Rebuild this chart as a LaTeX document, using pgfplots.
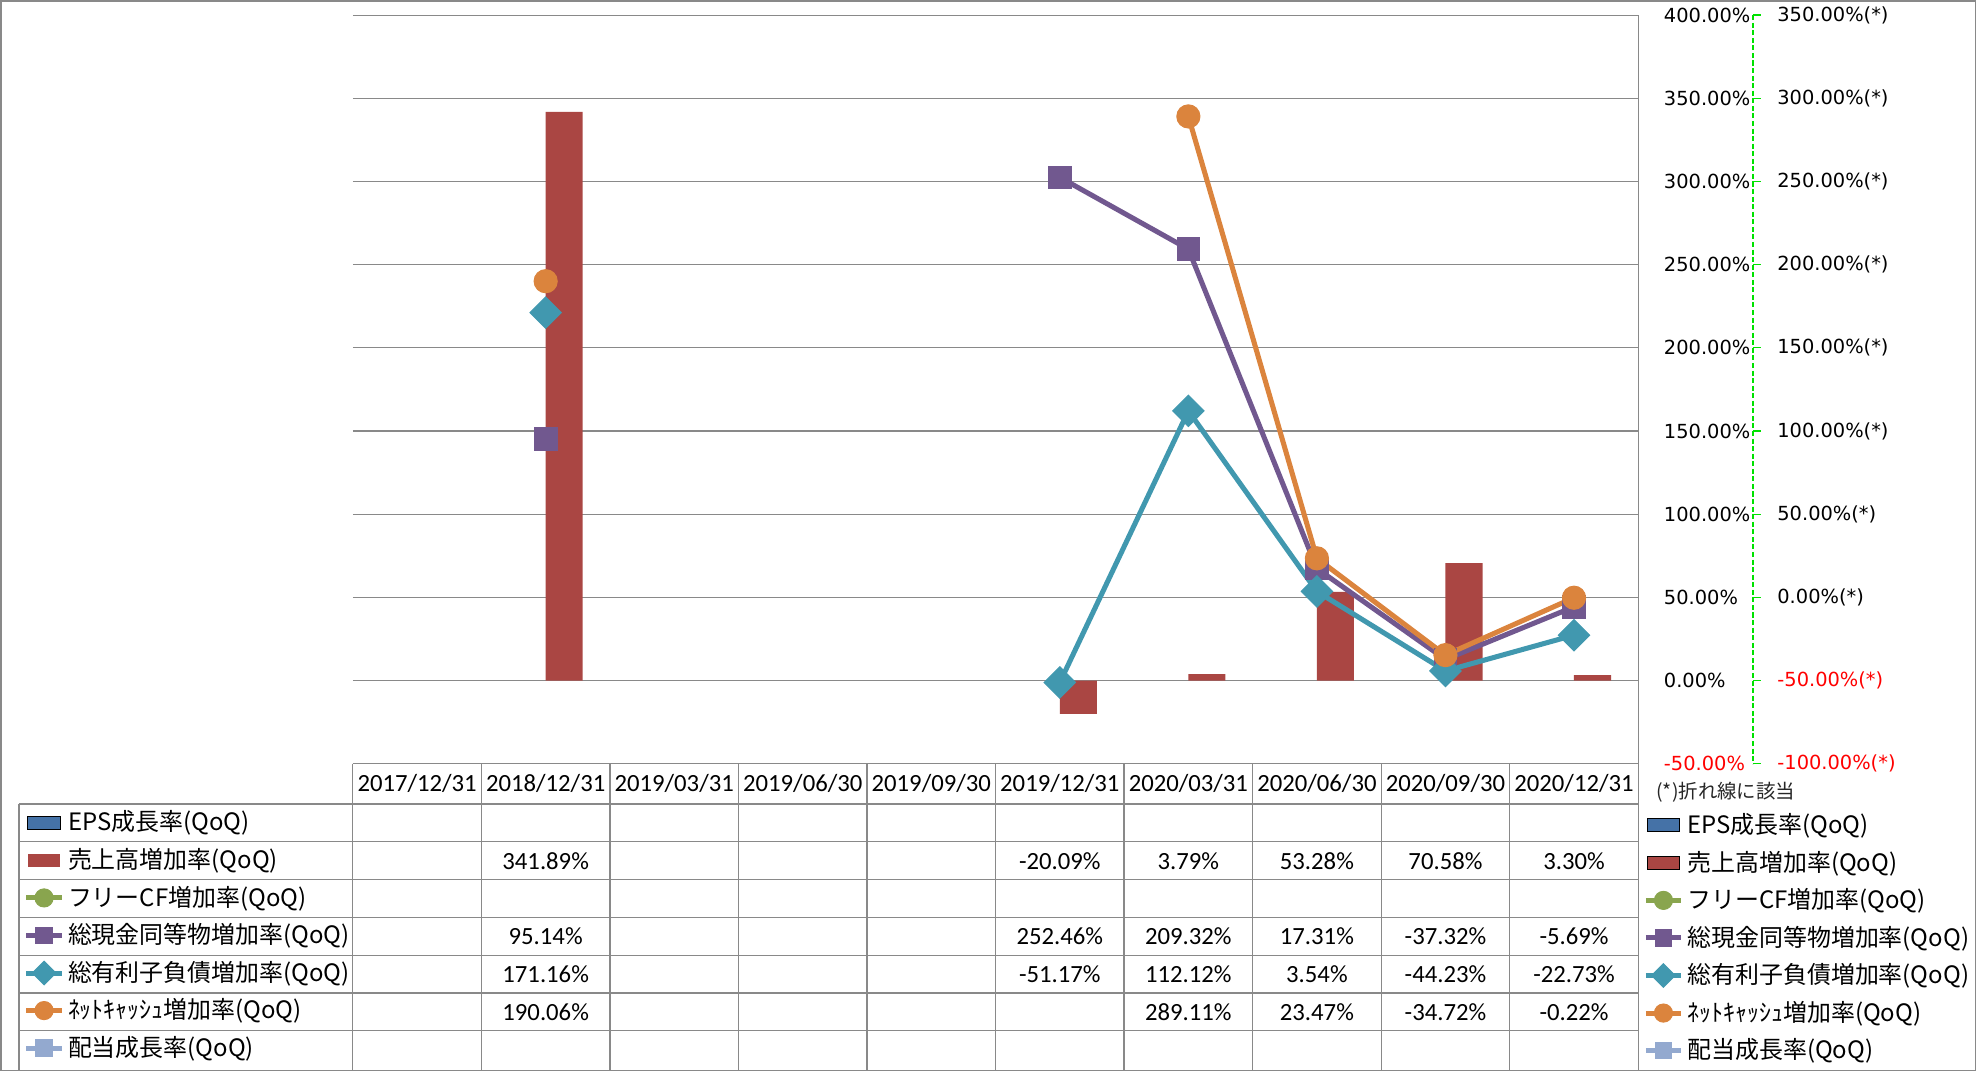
\documentclass[border=0pt]{standalone}
\usepackage{pgfplots}
\pgfplotsset{compat=1.18}
\usepackage{fontspec}
\setmainfont{Carlito}
\newfontfamily\axfont{DejaVu Sans}
\newfontfamily\jp{Noto Sans CJK JP}
\definecolor{c1}{HTML}{4572A7}
\definecolor{c2}{HTML}{AA4643}
\definecolor{c3}{HTML}{89A54E}
\definecolor{c4}{HTML}{71588F}
\definecolor{c5}{HTML}{4198AF}
\definecolor{c6}{HTML}{DB843D}
\definecolor{c7}{HTML}{93A9CF}
\definecolor{gridgray}{HTML}{898989}
\definecolor{lgreen}{RGB}{0,225,0}
\newcommand\tf{\fontsize{9.8}{11}\selectfont}
\newcommand\lf{\jp\fontsize{9.5}{11}\selectfont}
\newcommand\af{\axfont\fontsize{7.7}{9}\selectfont}
\pgfplotsset{
  barleg/.style={legend image code/.code={\fill[##1] (0.5pt,-2.6pt) rectangle (13.5pt,2.6pt);}},
  lineleg/.style={legend image code/.code={\draw[##1, sharp plot, mark repeat=2, mark phase=2] plot coordinates {(0pt,0pt) (7pt,0pt) (14pt,0pt)};}},
  base/.style={
    at={(140pt,-303pt)}, anchor=south west,
    width=510pt, height=297pt, scale only axis,
    xmin=-0.5, xmax=9.5,
    axis line style={draw=none},
    major tick length=0pt,
    ytick pos=right, yticklabel pos=right,
    legend cell align=left,
  },
  legsty/.style={legend style={at={#1}, anchor=north west, draw=none, fill=none,
    inner sep=0pt, outer sep=0pt, row sep=0pt, font=\lf,
    nodes={inner sep=0pt, minimum height=14.9pt},
    /tikz/every odd column/.append style={column sep=1.5pt}}},
  ln/.style={line width=2pt, mark options={line width=0.4pt}},
  dia/.style={mark=square*, mark options={line width=0.4pt, rotate=45}},
}
\begin{document}
\begin{tikzpicture}
\begin{scope}[x=0.5pt,y=-0.5pt]
\path[use as bounding box] (0,0) rectangle (1568,850);
\end{scope}

\begin{axis}[base,
  ymin=-50, ymax=400,
  xtick={0,...,9},
  xticklabels={2017/12/31,2018/12/31,2019/03/31,2019/06/30,2019/09/30,2019/12/31,2020/03/31,2020/06/30,2020/09/30,2020/12/31},
  xticklabel style={font=\tf, anchor=center, yshift=-8pt, inner sep=0pt},
  ytick={-50,0,50,100,150,200,250,300,350,400},
  yticklabels={\textcolor{red}{-50.00\%},0.00\%,50.00\%,100.00\%,150.00\%,200.00\%,250.00\%,300.00\%,350.00\%,400.00\%},
  yticklabel style={anchor=west, inner sep=0pt, xshift=10pt, font=\af},
  ymajorgrids, major grid style={draw=gridgray, line width=0.5pt},
  legsty={(-0.2559,-0.0539)},
]
\addlegendimage{barleg, fill=c1}
\addlegendentry{EPS成長率(QoQ)}
\addplot[ybar, bar width=14.7pt, bar shift=7.35pt, fill=c2, draw=none, barleg]
  coordinates {(1,341.89) (5,-20.09) (6,3.79) (7,53.28) (8,70.58) (9,3.30)};
\addlegendentry{売上高増加率(QoQ)}
\addlegendimage{lineleg, c3, ln, mark=*, mark size=3.6pt}
\addlegendentry{フリーCF増加率(QoQ)}
\addlegendimage{lineleg, c4, ln, mark=square*, mark size=3.3pt}
\addlegendentry{総現金同等物増加率(QoQ)}
\addlegendimage{lineleg, c5, ln, dia, mark size=3.3pt}
\addlegendentry{総有利子負債増加率(QoQ)}
\addlegendimage{lineleg, c6, ln, mark=*, mark size=3.6pt}
\addlegendentry{ﾈｯﾄｷｬｯｼｭ増加率(QoQ)}
\addlegendimage{lineleg, c7, ln, mark=square*, mark size=3.3pt}
\addlegendentry{配当成長率(QoQ)}
\end{axis}

\begin{axis}[base,
  ymin=-100, ymax=350,
  xtick=\empty,
  ytick={-100,-50,0,50,100,150,200,250,300,350},
  yticklabels={\textcolor{red}{-100.00\%(*)},\textcolor{red}{-50.00\%(*)},0.00\%(*),50.00\%(*),100.00\%(*),150.00\%(*),200.00\%(*),250.00\%(*),300.00\%(*),350.00\%(*)},
  yticklabel style={anchor=west, inner sep=0pt, xshift=55pt, font=\af},
  unbounded coords=jump,
  legsty={(1.0039,-0.0572)},
]
\addlegendimage{barleg, fill=c1}
\addlegendentry{EPS成長率(QoQ)}
\addlegendimage{barleg, fill=c2}
\addlegendentry{売上高増加率(QoQ)}
\addlegendimage{lineleg, c3, ln, mark=*, mark size=3.6pt}
\addlegendentry{フリーCF増加率(QoQ)}
\addlegendimage{lineleg, c4, ln, mark=square*, mark size=3.3pt}
\addlegendentry{総現金同等物増加率(QoQ)}
\addlegendimage{lineleg, c5, ln, dia, mark size=3.3pt}
\addlegendentry{総有利子負債増加率(QoQ)}
\addlegendimage{lineleg, c6, ln, mark=*, mark size=3.6pt}
\addlegendentry{ﾈｯﾄｷｬｯｼｭ増加率(QoQ)}
\addlegendimage{lineleg, c7, ln, mark=square*, mark size=3.3pt}
\addlegendentry{配当成長率(QoQ)}
\addplot[forget plot, c4, ln, mark=square*, mark size=4.5pt]
  coordinates {(1,95.14) (2,nan) (3,nan) (4,nan) (5,252.46) (6,209.32) (7,17.31) (8,-37.32) (9,-5.69)};
\addplot[forget plot, c5, ln, dia, mark size=4.4pt]
  coordinates {(1,171.16) (2,nan) (3,nan) (4,nan) (5,-51.17) (6,112.12) (7,3.54) (8,-44.23) (9,-22.73)};
\addplot[forget plot, c6, ln, mark=*, mark size=4.6pt]
  coordinates {(1,190.06) (2,nan) (3,nan) (4,nan) (5,nan) (6,289.11) (7,23.47) (8,-34.72) (9,-0.22)};
\end{axis}

\begin{scope}[x=0.5pt,y=-0.5pt]
\draw[gridgray, line width=0.6pt] (0.6,0.6) rectangle (1567.4,849.4);
\draw[gridgray, line width=0.5pt] (1300,12) -- (1300,850);
\foreach \x in {280,382,...,1198} \draw[gridgray, line width=0.5pt] (\x,606) -- (\x,850);
\draw[gridgray, line width=0.5pt] (15,638) -- (15,850);
\foreach \y in {638,668,...,818} \draw[gridgray, line width=0.5pt] (15,\y) -- (1300,\y);
\draw[lgreen, line width=0.6pt, dash pattern=on 2pt off 1pt] (1391,12) -- (1391,606);
\foreach \y in {12,78,...,606} \draw[lgreen, line width=0.5pt] (1391,\y) -- (1397,\y);
\node[anchor=west, inner sep=0pt, font=\jp\fontsize{7.7}{9}\selectfont, text=black!85] at (1314,629) {(*)折れ線に該当};
% table values
\begin{scope}[every node/.style={font=\tf, inner sep=0pt}]
\node at (433,683) {341.89\%};
\node at (841,683) {-20.09\%};
\node at (943,683) {3.79\%};
\node at (1045,683) {53.28\%};
\node at (1147,683) {70.58\%};
\node at (1249,683) {3.30\%};
\node at (433,743) {95.14\%};
\node at (841,743) {252.46\%};
\node at (943,743) {209.32\%};
\node at (1045,743) {17.31\%};
\node at (1147,743) {-37.32\%};
\node at (1249,743) {-5.69\%};
\node at (433,773) {171.16\%};
\node at (841,773) {-51.17\%};
\node at (943,773) {112.12\%};
\node at (1045,773) {3.54\%};
\node at (1147,773) {-44.23\%};
\node at (1249,773) {-22.73\%};
\node at (433,803) {190.06\%};
\node at (943,803) {289.11\%};
\node at (1045,803) {23.47\%};
\node at (1147,803) {-34.72\%};
\node at (1249,803) {-0.22\%};
\end{scope}
\end{scope}
\end{tikzpicture}
\end{document}
